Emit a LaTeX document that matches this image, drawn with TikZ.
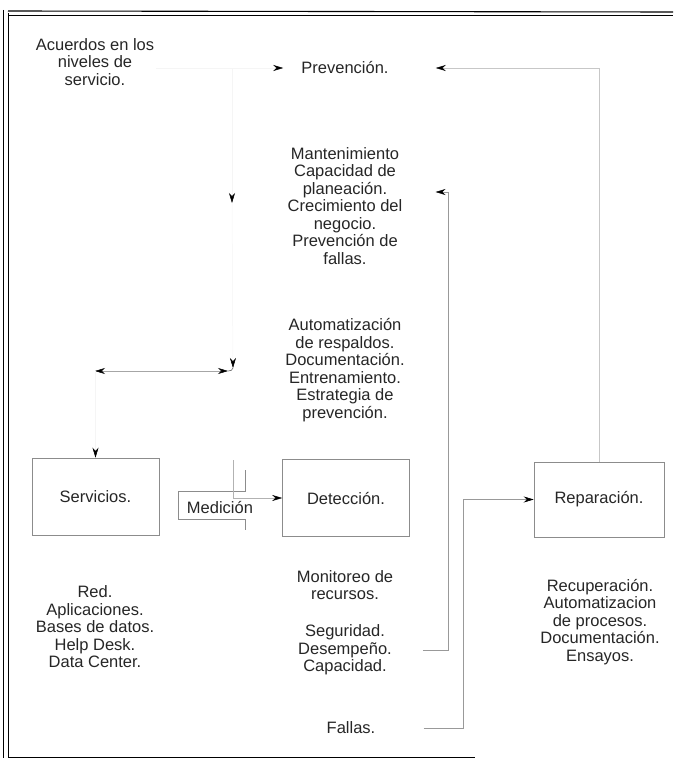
\documentclass[tikz,border=0pt]{standalone}
\usepackage{fontspec}
\setmainfont{Liberation Sans}
\usetikzlibrary{arrows.meta,positioning,calc}
\tikzset{
  caja/.style={draw=black!45, line width=0.6pt, minimum width=127pt,
    minimum height=77pt, text=black!85,
    font=\fontsize{16.5}{17.5}\selectfont},
  lista/.style={align=center, inner sep=2pt, text=black!85,
    font=\fontsize{16.5}{17.5}\selectfont},
  lnk/.style={draw=black!40, line width=0.5pt,
    -{Stealth[length=10pt, width=6pt, color=black]}},
  ghost/.style={lnk, draw=black!4},
  brk/.style={draw=black!45, line width=0.5pt},
  marco/.style={draw=black, line width=0.9pt}
}

\begin{document}
\begin{tikzpicture}[x=1pt, y=-1pt]
  \useasboundingbox (0,0) rectangle (673,760);
  % marco
  \draw[marco] (3,10) -- (3,758);
  \draw[marco] (8,13) -- (8,757);
  \draw[marco, line width=1.1pt] (8,11) -- (673,12);
  \draw[marco, line width=0.5pt] (8,15) -- (673,15);
  \draw[marco] (8,757) -- (475,757);

  % textos de arriba
  \node[lista] (acu) at (95,62) {Acuerdos en los\\niveles de\\servicio.};
  \node[lista] (prev) at (345,68) {Prevención.};
  \node[lista] (mant) at (345,206)
    {Mantenimiento\\Capacidad de\\planeación.\\Crecimiento del\\negocio.\\Prevención de\\fallas.};
  \node[lista] (aut) at (345,370)
    {Automatización\\de respaldos.\\Documentación.\\Entrenamiento.\\Estrategia de\\prevención.};

  % cajas
  \node[caja] (ser) at (95.5,496.5) {Servicios.};
  \node[caja] (det) at (346,498) {Detección.};
  \node[caja, minimum width=130pt, minimum height=75pt] (rep) at (599,499.5) {Reparación.};

  % listas
  \node[lista] (serl) at (95,627) {Red.\\Aplicaciones.\\Bases de datos.\\Help Desk.\\Data Center.};
  \node[lista] (med) at (220,507) {Medición};
  \draw[brk] ($(med)+(25,-37)$) -- ++(0,21) -- ++(-67,0) -- ++(0,28) -- ++(67,0) -- ++(0,11);
  \node[lista] (mon) at (345,585) {Monitoreo de\\recursos.};
  \node[lista] (seg) at (345,650) {Seguridad.\\Desempeño.\\Capacidad.};
  \node[lista] (fal) at (351,728) {Fallas.};
  \node[lista] (repl) at (600,622)
    {Recuperación.\\Automatizacion\\de procesos.\\Documentación.\\Ensayos.};

  % conectores
  \coordinate (v0) at (232,68);
  \coordinate (v1) at (232,203);
  \coordinate (v2) at (233,368);
  \coordinate (h0) at (95,371);
  \coordinate (h1) at (228,371);
  \coordinate (q0) at (233,460);
  \coordinate (kd) at (448,192);
  \coordinate (kf) at (463,728);
  \draw[ghost, shorten >=16pt] (acu.east |- prev.west) -- (prev.west);
  \draw[ghost] (v0) -- (v1);
  \draw[ghost] (v1) -- (v2);
  \draw[draw=black!35, line width=0.5pt,
    {Stealth[length=10pt, width=6pt, color=black]}-{Stealth[length=10pt, width=6pt, color=black]}] (h0) -- (h1);
  \draw[draw=black!60, line width=0.6pt] (h1) to[out=0, in=-90] (v2);
  \draw[ghost] (ser.north |- h0) -- (ser.north);
  \draw[lnk, draw=black!30] (q0) |- (det.west);
  \draw[lnk, draw=black!22, shorten >=45pt] (rep.north) |- (prev.east);
  \draw[lnk, shorten <=29pt, shorten >=31pt] (seg.east) -| (kd) -- (mant.east |- kd);
  \draw[lnk, shorten <=46pt] (fal.east) -- (kf) |- (rep.west);
\end{tikzpicture}
\end{document}
